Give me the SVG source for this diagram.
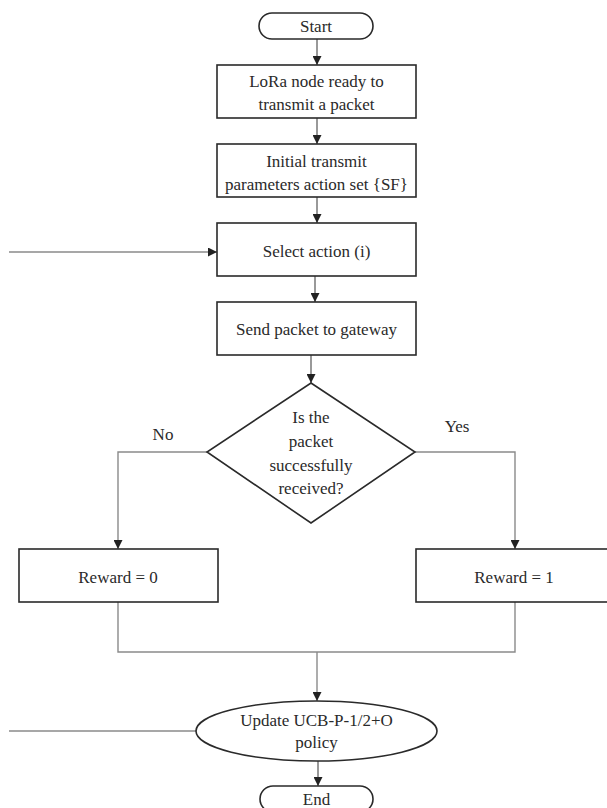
<svg xmlns="http://www.w3.org/2000/svg" width="607" height="808" viewBox="0 0 607 808">
<defs>
<marker id="ah" viewBox="0 0 10 10" refX="10" refY="5" markerWidth="9" markerHeight="9" markerUnits="userSpaceOnUse" orient="auto">
<path d="M0,0 L10,5 L0,10 Z" fill="#222"/>
</marker>
</defs>
<style>
.box{fill:#fff;stroke:#2a2a2a;stroke-width:1.6}
.ln{fill:none;stroke:#555;stroke-width:1.2}
.lg{fill:none;stroke:#8a8a8a;stroke-width:1.4}
text{font-family:"Liberation Serif","Times New Roman",serif;font-size:17px;fill:#2a2a2a;text-anchor:middle}
</style>
<rect width="607" height="808" fill="#fff"/>
<g id="connectors">
<line class="ln" x1="317" y1="39" x2="317" y2="65" marker-end="url(#ah)"/>
<line class="ln" x1="317" y1="118" x2="317" y2="144" marker-end="url(#ah)"/>
<line class="ln" x1="317" y1="197" x2="317" y2="223" marker-end="url(#ah)"/>
<line class="lg" x1="9" y1="252" x2="217" y2="252" marker-end="url(#ah)"/>
<line class="ln" x1="315" y1="276" x2="315" y2="302" marker-end="url(#ah)"/>
<line class="ln" x1="311" y1="355" x2="311" y2="383" marker-end="url(#ah)"/>
<polyline class="lg" points="207,452 118,452 118,549" marker-end="url(#ah)"/>
<polyline class="lg" points="415,452 515,452 515,549" marker-end="url(#ah)"/>
<polyline class="lg" points="118,602 118,652 515,652 515,602"/>
<line class="lg" x1="317" y1="652" x2="317" y2="701" marker-end="url(#ah)"/>
<line class="lg" x1="9" y1="731" x2="196" y2="731"/>
<line class="ln" x1="318" y1="761" x2="318" y2="786" marker-end="url(#ah)"/>
</g>
<g id="start">
<rect class="box" x="259" y="13" width="114" height="26" rx="13" ry="13"/>
<text x="316" y="32">Start</text>
</g>
<g id="ready">
<rect class="box" x="217" y="65" width="199" height="53"/>
<text x="316.5" y="87">LoRa node ready to</text>
<text x="316.5" y="110">transmit a packet</text>
</g>
<g id="init">
<rect class="box" x="217" y="144" width="199" height="53"/>
<text x="316.5" y="167">Initial transmit</text>
<text x="316.5" y="190">parameters action set {SF}</text>
</g>
<g id="select">
<rect class="box" x="217" y="223" width="199" height="53"/>
<text x="316.5" y="257">Select action (i)</text>
</g>
<g id="send">
<rect class="box" x="217" y="302" width="199" height="53"/>
<text x="316.5" y="335">Send packet to gateway</text>
</g>
<g id="decision">
<polygon class="box" points="311,383 415,452 311,523 207,452"/>
<text x="311" y="423">Is the</text>
<text x="311" y="447">packet</text>
<text x="311" y="471">successfully</text>
<text x="311" y="494">received?</text>
</g>
<g id="labels">
<text x="163" y="440">No</text>
<text x="457" y="432">Yes</text>
</g>
<g id="reward0">
<rect class="box" x="19" y="549" width="199" height="53"/>
<text x="118" y="583">Reward = 0</text>
</g>
<g id="reward1">
<rect class="box" x="416" y="549" width="199" height="53"/>
<text x="514" y="583">Reward = 1</text>
</g>
<g id="update">
<ellipse class="box" cx="316.5" cy="731" rx="120.5" ry="30"/>
<text x="316.5" y="726">Update UCB-P-1/2+O</text>
<text x="316.5" y="748">policy</text>
</g>
<g id="end">
<rect class="box" x="260" y="786" width="113" height="26" rx="13" ry="13"/>
<text x="316.5" y="805">End</text>
</g>
</svg>
